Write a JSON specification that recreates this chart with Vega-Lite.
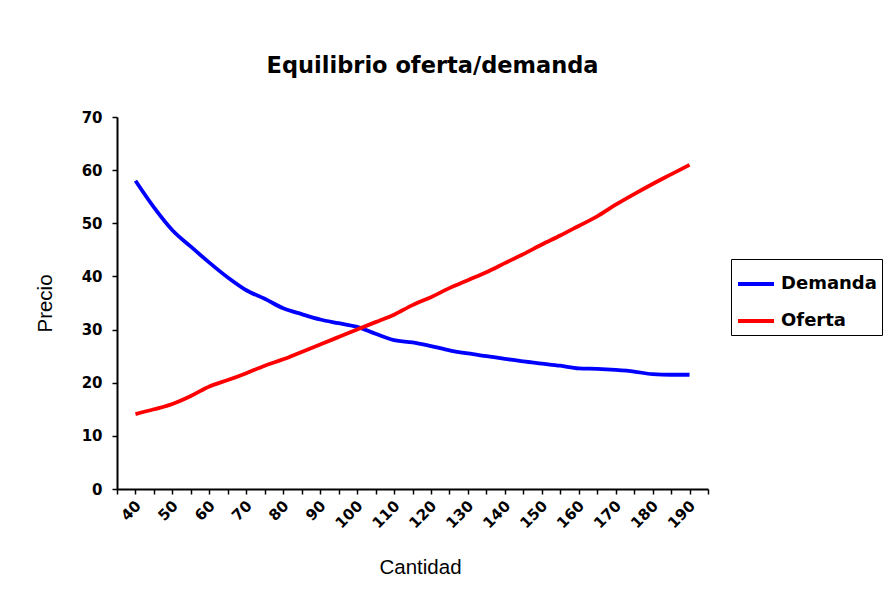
{
  "$schema": "https://vega.github.io/schema/vega-lite/v6.json",
  "autosize": "none",
  "width": 591,
  "height": 372,
  "padding": {"left": 117, "top": 117, "right": 179, "bottom": 122},
  "background": "white",
  "title": {
    "text": "Equilibrio oferta/demanda",
    "font": "DejaVu Sans",
    "fontWeight": "bold",
    "fontSize": 22.5,
    "color": "black",
    "anchor": "middle",
    "dx": 20,
    "offset": 33
  },
  "data": {
    "values": [
      {"cantidad": 45, "serie": "Demanda", "precio": 58.0},
      {"cantidad": 50, "serie": "Demanda", "precio": 53.0},
      {"cantidad": 55, "serie": "Demanda", "precio": 48.7},
      {"cantidad": 60, "serie": "Demanda", "precio": 45.6},
      {"cantidad": 65, "serie": "Demanda", "precio": 42.6},
      {"cantidad": 70, "serie": "Demanda", "precio": 39.8},
      {"cantidad": 75, "serie": "Demanda", "precio": 37.4},
      {"cantidad": 80, "serie": "Demanda", "precio": 35.8},
      {"cantidad": 85, "serie": "Demanda", "precio": 34.0},
      {"cantidad": 90, "serie": "Demanda", "precio": 32.9},
      {"cantidad": 95, "serie": "Demanda", "precio": 31.9},
      {"cantidad": 100, "serie": "Demanda", "precio": 31.2},
      {"cantidad": 105, "serie": "Demanda", "precio": 30.5},
      {"cantidad": 110, "serie": "Demanda", "precio": 29.2},
      {"cantidad": 115, "serie": "Demanda", "precio": 28.0},
      {"cantidad": 120, "serie": "Demanda", "precio": 27.6},
      {"cantidad": 125, "serie": "Demanda", "precio": 26.9},
      {"cantidad": 130, "serie": "Demanda", "precio": 26.1},
      {"cantidad": 135, "serie": "Demanda", "precio": 25.5},
      {"cantidad": 140, "serie": "Demanda", "precio": 25.0},
      {"cantidad": 145, "serie": "Demanda", "precio": 24.5},
      {"cantidad": 150, "serie": "Demanda", "precio": 24.0},
      {"cantidad": 155, "serie": "Demanda", "precio": 23.6},
      {"cantidad": 160, "serie": "Demanda", "precio": 23.2},
      {"cantidad": 165, "serie": "Demanda", "precio": 22.7},
      {"cantidad": 170, "serie": "Demanda", "precio": 22.6},
      {"cantidad": 175, "serie": "Demanda", "precio": 22.4},
      {"cantidad": 180, "serie": "Demanda", "precio": 22.1},
      {"cantidad": 185, "serie": "Demanda", "precio": 21.6},
      {"cantidad": 190, "serie": "Demanda", "precio": 21.5},
      {"cantidad": 195, "serie": "Demanda", "precio": 21.5},
      {"cantidad": 45, "serie": "Oferta", "precio": 14.1},
      {"cantidad": 50, "serie": "Oferta", "precio": 15.0},
      {"cantidad": 55, "serie": "Oferta", "precio": 16.0},
      {"cantidad": 60, "serie": "Oferta", "precio": 17.5},
      {"cantidad": 65, "serie": "Oferta", "precio": 19.3},
      {"cantidad": 70, "serie": "Oferta", "precio": 20.5},
      {"cantidad": 75, "serie": "Oferta", "precio": 21.8},
      {"cantidad": 80, "serie": "Oferta", "precio": 23.2},
      {"cantidad": 85, "serie": "Oferta", "precio": 24.4},
      {"cantidad": 90, "serie": "Oferta", "precio": 25.8},
      {"cantidad": 95, "serie": "Oferta", "precio": 27.2},
      {"cantidad": 100, "serie": "Oferta", "precio": 28.6},
      {"cantidad": 105, "serie": "Oferta", "precio": 30.0},
      {"cantidad": 110, "serie": "Oferta", "precio": 31.4},
      {"cantidad": 115, "serie": "Oferta", "precio": 32.8},
      {"cantidad": 120, "serie": "Oferta", "precio": 34.6},
      {"cantidad": 125, "serie": "Oferta", "precio": 36.1},
      {"cantidad": 130, "serie": "Oferta", "precio": 37.8},
      {"cantidad": 135, "serie": "Oferta", "precio": 39.3},
      {"cantidad": 140, "serie": "Oferta", "precio": 40.8},
      {"cantidad": 145, "serie": "Oferta", "precio": 42.5},
      {"cantidad": 150, "serie": "Oferta", "precio": 44.2},
      {"cantidad": 155, "serie": "Oferta", "precio": 46.0},
      {"cantidad": 160, "serie": "Oferta", "precio": 47.7},
      {"cantidad": 165, "serie": "Oferta", "precio": 49.5},
      {"cantidad": 170, "serie": "Oferta", "precio": 51.3},
      {"cantidad": 175, "serie": "Oferta", "precio": 53.5},
      {"cantidad": 180, "serie": "Oferta", "precio": 55.5},
      {"cantidad": 185, "serie": "Oferta", "precio": 57.4},
      {"cantidad": 190, "serie": "Oferta", "precio": 59.2},
      {"cantidad": 195, "serie": "Oferta", "precio": 61.0}
    ]
  },
  "mark": {"type": "line", "strokeWidth": 3.8, "interpolate": "monotone"},
  "encoding": {
    "x": {
      "field": "cantidad",
      "type": "quantitative",
      "scale": {"domain": [40, 200], "nice": false, "zero": false},
      "axis": {
        "title": "Cantidad",
        "values": [40, 45, 50, 55, 60, 65, 70, 75, 80, 85, 90, 95, 100, 105, 110, 115, 120, 125, 130, 135, 140, 145, 150, 155, 160, 165, 170, 175, 180, 185, 190, 195, 200],
        "labelExpr": "datum.value % 10 == 0 && datum.value < 200 ? datum.label : ''",
        "labelAngle": -45,
        "labelAlign": "right",
        "labelBaseline": "top",
        "labelFlush": false,
        "labelOverlap": false,
        "labelFontSize": 15,
        "labelPadding": 4,
        "labelOffset": 16,
        "titleFontSize": 20.5,
        "titleX": 303,
        "titleY": 84,
        "titleAlign": "center",
        "titleBaseline": "alphabetic"
      }
    },
    "y": {
      "field": "precio",
      "type": "quantitative",
      "scale": {"domain": [0, 70], "nice": false},
      "axis": {
        "title": "Precio",
        "values": [0, 10, 20, 30, 40, 50, 60, 70],
        "labelFontSize": 15,
        "labelPadding": 10,
        "titleFontSize": 20.5,
        "titleX": -72,
        "titleY": 186,
        "titleAlign": "center",
        "titleBaseline": "middle",
        "titleAngle": -90
      }
    },
    "color": {
      "field": "serie",
      "type": "nominal",
      "scale": {"domain": ["Demanda", "Oferta"], "range": ["#0000FF", "#FF0000"]},
      "legend": {
        "title": null,
        "orient": "none",
        "legendX": 614,
        "legendY": 142,
        "strokeColor": "black",
        "padding": 5,
        "symbolType": "stroke",
        "symbolSize": 1300,
        "symbolStrokeWidth": 3.8,
        "labelFont": "DejaVu Sans",
        "labelFontWeight": "bold",
        "labelFontSize": 18,
        "labelColor": "black",
        "labelOffset": 5,
        "rowPadding": 8
      }
    }
  },
  "config": {
    "view": {"stroke": null},
    "axis": {
      "grid": false,
      "domainColor": "black",
      "domainWidth": 2,
      "tickColor": "black",
      "tickWidth": 1.5,
      "tickSize": 5,
      "labelFont": "DejaVu Sans",
      "labelFontWeight": "bold",
      "labelColor": "black",
      "titleFont": "Liberation Sans",
      "titleFontWeight": "normal",
      "titleColor": "black"
    }
  }
}
